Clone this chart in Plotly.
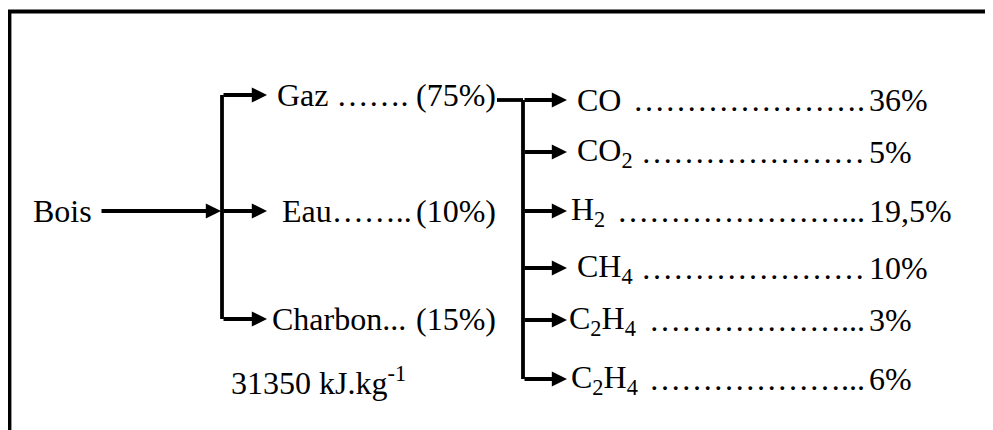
import plotly.graph_objects as go

# source -> products of wood pyrolysis
source_label = "Bois"
products = ["Gaz", "Eau", "Charbon"]
product_share = ["(75%)", "(10%)", "(15%)"]
product_leader = [" …….", "……..", "..."]
energy_note = "31350 kJ.kg<sup>-1</sup>"

# composition of the gas fraction
gases = ["CO", "CO<sub>2</sub>", "H<sub>2</sub>", "CH<sub>4</sub>",
         "C<sub>2</sub>H<sub>4</sub>", "C<sub>2</sub>H<sub>4</sub>"]
gas_share = ["36%", "5%", "19,5%", "10%", "3%", "6%"]
# dotted leaders: number of "…" and "." per row
leader_ellipses = [7, 7, 7, 7, 6, 6]
leader_periods = [1, 0, 3, 0, 3, 3]

#### layout positions (page pixels, y down) ####
W, H = 993, 430
OFF = 8  # page body margin around the plot div
FONT = dict(family="Liberation Serif, Times New Roman, DejaVu Serif, serif", size=32, color="black")
LW = 3.8

bois_y = 211
split_x = 222
prod_y = [95, 211, 319]
prod_text_x = [275, 280, 270]
share_right_x = 498
tip1_x = 267

gas_split_x = 523
gas_y = [100, 152, 211, 268, 320, 379]
gas_text_x = [575, 575, 569, 575, 567, 569]
tip2_x = 567
pct_x = 867

fig = go.Figure()

def seg(x, y):
    fig.add_trace(go.Scatter(x=x, y=y, mode="lines", hoverinfo="skip",
                             line=dict(color="black", width=LW), showlegend=False))

def arrow(x0, x1, y):
    fig.add_annotation(x=x1, y=y, ax=x0, ay=y, xref="x", yref="y", axref="x", ayref="y",
                       text="", showarrow=True, arrowhead=2, arrowsize=0.8,
                       arrowwidth=LW, arrowcolor="black", standoff=0)

def label(x, y, txt, anchor="left"):
    fig.add_annotation(x=x, y=y, xref="x", yref="y", text=txt, showarrow=False,
                       xanchor=anchor, yanchor="middle", font=FONT)

# Bois -> split
label(31, bois_y, source_label)
arrow(100, split_x - 1, bois_y)
seg([split_x, split_x], [prod_y[0], prod_y[-1]])
for i, p in enumerate(products):
    arrow(split_x, tip1_x, prod_y[i])
    label(prod_text_x[i], prod_y[i], p + product_leader[i])
    label(share_right_x, prod_y[i], product_share[i], anchor="right")
label(229, 381, energy_note)

# gas -> components
seg([497, gas_split_x], [gas_y[0], gas_y[0]])
seg([gas_split_x, gas_split_x], [gas_y[0], gas_y[-1]])
for i, g in enumerate(gases):
    arrow(gas_split_x, tip2_x, gas_y[i])
    label(gas_text_x[i], gas_y[i], g)
    leader = "…" * leader_ellipses[i] + "." * leader_periods[i]
    label(pct_x, gas_y[i], leader, anchor="right")
    label(pct_x, gas_y[i], gas_share[i])

# frame
fig.add_shape(type="rect", x0=9.5, y0=11.5, x1=W + 20, y1=H + 20,
              line=dict(color="black", width=LW))

fig.update_layout(
    width=W, height=H,
    margin=dict(l=0, r=0, t=0, b=0),
    plot_bgcolor="white", paper_bgcolor="white",
    xaxis=dict(range=[OFF, W + OFF], visible=False, fixedrange=True),
    yaxis=dict(range=[H + OFF, OFF], visible=False, fixedrange=True),
)

fig.write_html("out.html")
